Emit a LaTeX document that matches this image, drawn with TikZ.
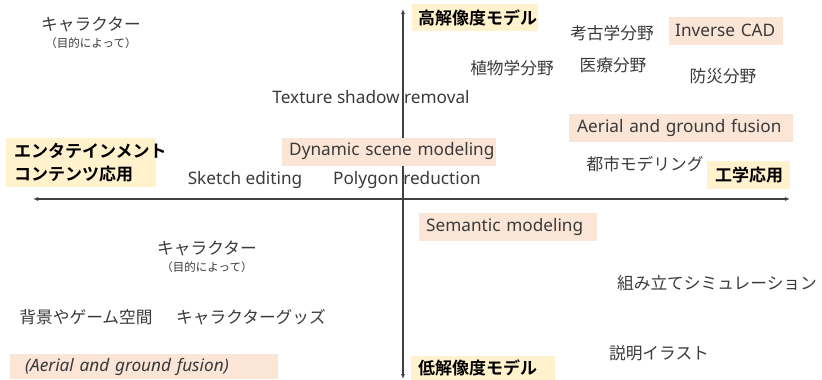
\documentclass[tikz,border=0pt]{standalone}
\usepackage{fontspec}
\setmainfont{Noto Sans}
\newfontfamily\jp[BoldFont={Noto Sans CJK JP Bold}]{Noto Sans CJK JP}
\usetikzlibrary{arrows.meta,positioning}
\definecolor{axisgray}{HTML}{404040}
\definecolor{txtgray}{HTML}{3A3A3A}
\definecolor{hiyellow}{HTML}{FFF2CC}
\definecolor{hipeach}{HTML}{FBE5D6}

\begin{document}
\begin{tikzpicture}[x=1pt, y=-1pt,
    lbl/.style={text=txtgray, inner sep=0pt, font=\fontsize{17.2}{21}\selectfont},
    jlbl/.style={lbl, font=\fontsize{16.7}{20}\selectfont\jp},
    sublbl/.style={lbl, font=\fontsize{11.5}{14}\selectfont\jp},
    peachbox/.style={lbl, fill=hipeach, anchor=west, align=left, inner xsep=8pt, inner ysep=0pt, minimum height=28pt},
    yellowbox/.style={fill=hiyellow, text=black, anchor=west, align=left, inner xsep=8pt, inner ysep=0pt,
        minimum height=27pt, font=\fontsize{17}{23}\selectfont\jp\bfseries}]
  \useasboundingbox (0,0) rectangle (822,380);

  % axes
  \coordinate (xl) at (33,199);
  \coordinate (xr) at (790,199);
  \coordinate (yt) at (403,9);
  \coordinate (yb) at (403,379);
  \draw[axisgray, line width=1.2pt, {Latex[length=5pt,width=4pt]}-{Latex[length=5pt,width=4pt]}] (xl) -- (xr);
  \draw[axisgray, line width=1.2pt, {Latex[length=5pt,width=4pt]}-{Latex[length=5pt,width=4pt]}] (yb) -- (yt);

  % upper half
  \node[jlbl] (chara1) at (91,24) {キャラクター};
  \node[sublbl, below=6pt of chara1] (chara1s) {（目的によって）};
  \node[yellowbox, inner xsep=6pt, text width=114pt] (hires) at (412,17.5) {\mbox{高解像度モデル}};
  \node[jlbl] (koko) at (612,33) {考古学分野};
  \node[peachbox, inner xsep=6pt, text width=102pt] (icad) at (669,30.5) {\mbox{Inverse CAD}};
  \node[jlbl] (shoku) at (512,68) {植物学分野};
  \node[jlbl] (iryo) at (613,65) {医療分野};
  \node[jlbl] (bosai) at (723,76) {防災分野};
  \node[lbl] (texsh) at (371,97) {Texture shadow removal};
  \node[peachbox, text width=208pt] (aerial) at (569,127.5) {\mbox{Aerial and ground fusion}};
  \node[yellowbox, text width=134pt, minimum height=49pt] (enter) at (6,162.5) {\mbox{エンタテインメント}\\\mbox{コンテンツ応用}};
  \node[peachbox, inner xsep=7pt, text width=200pt] (dyn) at (282,151.5) {\mbox{Dynamic scene modeling}};
  \node[jlbl] (toshi) at (645,164) {都市モデリング};
  \node[yellowbox, text width=67pt, minimum height=28pt] (kogaku) at (707,175) {\mbox{工学応用}};
  \node[lbl] (sketch) at (245,180) {Sketch editing};
  \node[lbl] (polyred) at (407,180) {Polygon reduction};

  % lower half
  \node[peachbox, inner xsep=7pt, text width=164pt] (sem) at (419,227) {\mbox{Semantic modeling}};
  \node[jlbl] (chara2) at (207,248) {キャラクター};
  \node[sublbl, below=6pt of chara2] (chara2s) {（目的によって）};
  \node[jlbl] (kumi) at (717,283) {組み立てシミュレーション};
  \node[jlbl] (haikei) at (86,317) {背景やゲーム空間};
  \node[jlbl] (goods) at (251,317) {キャラクターグッズ};
  \node[jlbl] (setsu) at (659,353) {説明イラスト};
  \node[peachbox, inner xsep=15pt, text width=238pt, minimum height=25pt, font=\fontsize{17.2}{21}\selectfont\itshape] (aerial2) at (10,366.5) {\mbox{(Aerial and ground fusion)}};
  \node[yellowbox, inner xsep=7pt, text width=130pt, minimum height=24pt] (lores) at (411,368) {\mbox{低解像度モデル}};
\end{tikzpicture}
\end{document}
